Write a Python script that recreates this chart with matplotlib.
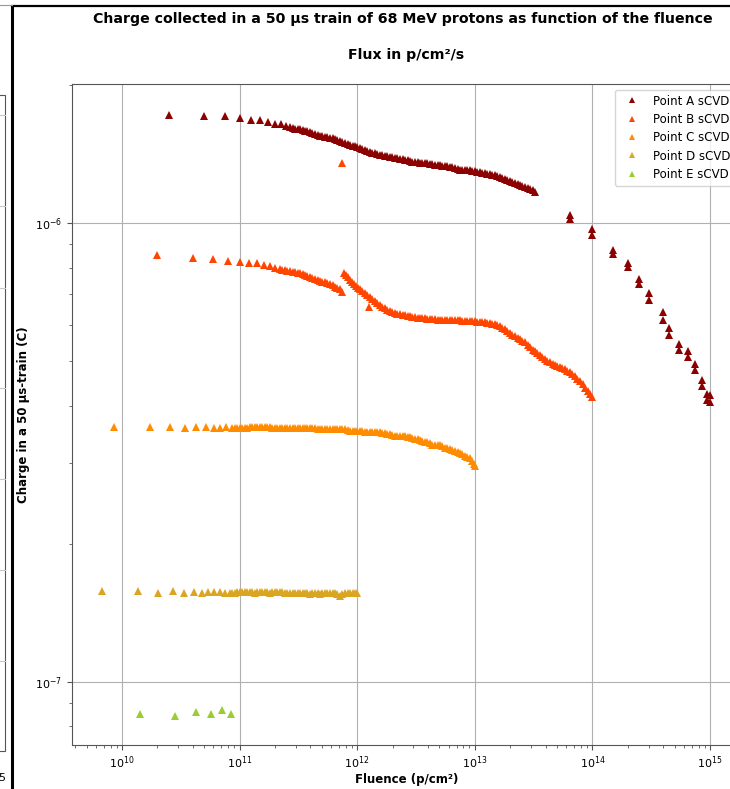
import matplotlib
matplotlib.use("Agg")
import matplotlib.pyplot as plt
from matplotlib.lines import Line2D
from matplotlib.patches import Rectangle

# ---------------- data: (fluence p/cm^2, charge per 50 us train C) ----------------
points_a = [
    (2.5e10, 1.722e-6), (5.0e10, 1.714e-6), (7.5e10, 1.714e-6), (1.0e11, 1.697e-6), (1.25e11, 1.680e-6),
    (1.5e11, 1.680e-6), (1.75e11, 1.663e-6), (2.0e11, 1.646e-6), (2.25e11, 1.646e-6), (2.5e11, 1.629e-6),
    (2.68e11, 1.621e-6), (2.82e11, 1.613e-6), (2.96e11, 1.605e-6), (3.11e11, 1.605e-6), (3.26e11, 1.605e-6),
    (3.43e11, 1.597e-6), (3.60e11, 1.589e-6), (3.78e11, 1.585e-6), (3.97e11, 1.580e-6), (4.17e11, 1.572e-6),
    (4.38e11, 1.564e-6), (4.60e11, 1.556e-6), (4.83e11, 1.549e-6), (5.07e11, 1.545e-6), (5.32e11, 1.541e-6),
    (5.59e11, 1.537e-6), (5.87e11, 1.533e-6), (6.17e11, 1.529e-6), (6.48e11, 1.525e-6), (6.80e11, 1.518e-6),
    (7.14e11, 1.510e-6), (7.50e11, 1.502e-6), (7.88e11, 1.495e-6), (8.28e11, 1.487e-6), (8.69e11, 1.480e-6),
    (9.13e11, 1.476e-6), (9.58e11, 1.473e-6), (1.006e12, 1.465e-6), (1.056e12, 1.458e-6), (1.109e12, 1.451e-6),
    (1.165e12, 1.443e-6), (1.223e12, 1.436e-6), (1.285e12, 1.429e-6), (1.349e12, 1.425e-6), (1.417e12, 1.422e-6),
    (1.488e12, 1.415e-6), (1.563e12, 1.408e-6), (1.641e12, 1.404e-6), (1.724e12, 1.401e-6), (1.810e12, 1.397e-6),
    (1.901e12, 1.393e-6), (1.996e12, 1.390e-6), (2.096e12, 1.386e-6), (2.201e12, 1.383e-6), (2.312e12, 1.380e-6),
    (2.43e12, 1.376e-6), (2.55e12, 1.373e-6), (2.68e12, 1.370e-6), (2.81e12, 1.366e-6), (2.95e12, 1.362e-6),
    (3.10e12, 1.359e-6), (3.26e12, 1.356e-6), (3.42e12, 1.352e-6), (3.59e12, 1.352e-6), (3.77e12, 1.352e-6),
    (3.96e12, 1.349e-6), (4.16e12, 1.345e-6), (4.37e12, 1.342e-6), (4.59e12, 1.339e-6), (4.82e12, 1.339e-6),
    (5.06e12, 1.339e-6), (5.31e12, 1.335e-6), (5.58e12, 1.332e-6), (5.86e12, 1.329e-6), (6.15e12, 1.325e-6),
    (6.46e12, 1.322e-6), (6.79e12, 1.318e-6), (7.13e12, 1.312e-6), (7.48e12, 1.305e-6), (7.86e12, 1.305e-6),
    (8.26e12, 1.305e-6), (8.67e12, 1.305e-6), (9.10e12, 1.305e-6), (9.56e12, 1.302e-6), (1.004e13, 1.299e-6),
    (1.054e13, 1.295e-6), (1.107e13, 1.292e-6), (1.163e13, 1.289e-6), (1.221e13, 1.286e-6), (1.282e13, 1.282e-6),
    (1.347e13, 1.279e-6), (1.414e13, 1.276e-6), (1.485e13, 1.273e-6), (1.560e13, 1.266e-6), (1.638e13, 1.260e-6),
    (1.720e13, 1.254e-6), (1.806e13, 1.248e-6), (1.897e13, 1.241e-6), (1.992e13, 1.235e-6), (2.09e13, 1.229e-6),
    (2.197e13, 1.223e-6), (2.31e13, 1.217e-6), (2.423e13, 1.211e-6), (2.545e13, 1.205e-6), (2.673e13, 1.198e-6),
    (2.81e13, 1.192e-6), (2.948e13, 1.186e-6), (3.10e13, 1.178e-6), (3.25e13, 1.169e-6),
    (6.5e13, 1.041e-6), (6.5e13, 1.020e-6), (1.0e14, 9.70e-7), (1.0e14, 9.41e-7),
    (1.5e14, 8.73e-7), (1.5e14, 8.56e-7), (2.0e14, 8.18e-7), (2.0e14, 8.01e-7),
    (2.5e14, 7.55e-7), (2.5e14, 7.36e-7), (3.0e14, 7.03e-7), (3.0e14, 6.79e-7),
    (4.0e14, 6.39e-7), (4.0e14, 6.14e-7), (4.5e14, 5.90e-7), (4.5e14, 5.69e-7),
    (5.5e14, 5.44e-7), (5.5e14, 5.28e-7), (6.5e14, 5.25e-7), (6.5e14, 5.10e-7),
    (7.5e14, 4.92e-7), (7.5e14, 4.78e-7), (8.5e14, 4.56e-7), (8.5e14, 4.41e-7),
    (9.5e14, 4.25e-7), (9.5e14, 4.11e-7), (1.0e15, 4.21e-7), (1.0e15, 4.07e-7),
]

points_b = [
    (2.0e10, 8.51e-7), (4.0e10, 8.39e-7), (6.0e10, 8.34e-7), (8.0e10, 8.26e-7), (1.0e11, 8.22e-7),
    (1.2e11, 8.18e-7), (1.4e11, 8.18e-7), (1.6e11, 8.10e-7), (1.8e11, 8.06e-7), (2.0e11, 7.97e-7),
    (2.206e11, 7.94e-7), (2.317e11, 7.92e-7), (2.433e11, 7.90e-7), (2.555e11, 7.88e-7), (2.68e11, 7.86e-7),
    (2.82e11, 7.84e-7), (2.96e11, 7.82e-7), (3.11e11, 7.80e-7), (3.26e11, 7.78e-7), (3.43e11, 7.74e-7),
    (3.60e11, 7.70e-7), (3.78e11, 7.66e-7), (3.97e11, 7.62e-7), (4.17e11, 7.59e-7), (4.38e11, 7.55e-7),
    (4.60e11, 7.51e-7), (4.83e11, 7.47e-7), (5.07e11, 7.45e-7), (5.32e11, 7.43e-7), (5.59e11, 7.40e-7),
    (5.87e11, 7.36e-7), (6.17e11, 7.31e-7), (6.48e11, 7.25e-7), (6.80e11, 7.22e-7), (7.14e11, 7.18e-7),
    (7.50e11, 7.07e-7),
    (7.70e11, 7.78e-7), (8.03e11, 7.70e-7), (8.36e11, 7.62e-7), (8.69e11, 7.52e-7), (9.04e11, 7.43e-7),
    (9.39e11, 7.36e-7), (9.77e11, 7.29e-7), (1.016e12, 7.23e-7), (1.056e12, 7.18e-7), (1.109e12, 7.10e-7),
    (1.165e12, 7.03e-7), (1.223e12, 6.96e-7), (1.285e12, 6.89e-7), (1.349e12, 6.82e-7), (1.417e12, 6.76e-7),
    (1.488e12, 6.69e-7), (1.563e12, 6.62e-7), (1.641e12, 6.57e-7), (1.724e12, 6.52e-7), (1.810e12, 6.47e-7),
    (1.901e12, 6.43e-7), (1.996e12, 6.39e-7), (2.096e12, 6.36e-7), (2.201e12, 6.34e-7), (2.312e12, 6.33e-7),
    (2.43e12, 6.31e-7), (2.55e12, 6.30e-7), (2.68e12, 6.28e-7), (2.81e12, 6.26e-7), (2.95e12, 6.25e-7),
    (3.10e12, 6.23e-7), (3.26e12, 6.22e-7), (3.42e12, 6.20e-7), (3.59e12, 6.20e-7), (3.77e12, 6.20e-7),
    (3.96e12, 6.18e-7), (4.16e12, 6.17e-7), (4.37e12, 6.17e-7), (4.59e12, 6.17e-7), (4.82e12, 6.15e-7),
    (5.06e12, 6.14e-7), (5.31e12, 6.14e-7), (5.58e12, 6.14e-7), (5.86e12, 6.14e-7), (6.15e12, 6.14e-7),
    (6.46e12, 6.14e-7), (6.79e12, 6.14e-7), (7.13e12, 6.14e-7), (7.48e12, 6.14e-7), (7.86e12, 6.12e-7),
    (8.26e12, 6.11e-7), (8.67e12, 6.11e-7), (9.10e12, 6.11e-7), (9.56e12, 6.11e-7), (1.004e13, 6.11e-7),
    (1.054e13, 6.10e-7), (1.107e13, 6.08e-7), (1.163e13, 6.08e-7), (1.221e13, 6.08e-7), (1.282e13, 6.06e-7),
    (1.347e13, 6.05e-7), (1.414e13, 6.03e-7), (1.485e13, 6.02e-7), (1.560e13, 5.99e-7), (1.638e13, 5.96e-7),
    (1.720e13, 5.92e-7), (1.806e13, 5.87e-7), (1.897e13, 5.81e-7), (1.992e13, 5.75e-7), (2.09e13, 5.71e-7),
    (2.197e13, 5.67e-7), (2.31e13, 5.62e-7), (2.423e13, 5.58e-7), (2.545e13, 5.54e-7), (2.673e13, 5.50e-7),
    (2.81e13, 5.43e-7), (2.948e13, 5.36e-7), (3.10e13, 5.30e-7), (3.25e13, 5.25e-7), (3.41e13, 5.20e-7),
    (3.58e13, 5.15e-7), (3.76e13, 5.10e-7), (3.95e13, 5.05e-7), (4.15e13, 5.01e-7), (4.36e13, 4.97e-7),
    (4.58e13, 4.93e-7), (4.81e13, 4.90e-7), (5.05e13, 4.87e-7), (5.30e13, 4.85e-7), (5.57e13, 4.82e-7),
    (5.85e13, 4.80e-7), (6.14e13, 4.76e-7), (6.45e13, 4.73e-7), (6.77e13, 4.68e-7), (7.11e13, 4.64e-7),
    (7.47e13, 4.58e-7), (7.85e13, 4.52e-7), (8.24e13, 4.45e-7), (8.65e13, 4.38e-7), (9.09e13, 4.31e-7),
    (9.54e13, 4.25e-7), (1.0e14, 4.17e-7),
    (1.25e12, 6.56e-7), (7.5e11, 1.352e-6),
]

points_c = [
    (8.6e9, 3.60e-7), (1.72e10, 3.60e-7), (2.58e10, 3.59e-7), (3.44e10, 3.57e-7), (4.30e10, 3.59e-7),
    (5.16e10, 3.59e-7), (6.02e10, 3.57e-7), (6.88e10, 3.57e-7), (7.74e10, 3.59e-7), (8.6e10, 3.57e-7),
    (9.14e10, 3.57e-7), (9.60e10, 3.57e-7), (1.008e11, 3.57e-7), (1.059e11, 3.57e-7), (1.112e11, 3.57e-7),
    (1.168e11, 3.58e-7), (1.226e11, 3.59e-7), (1.288e11, 3.59e-7), (1.352e11, 3.59e-7), (1.420e11, 3.59e-7),
    (1.491e11, 3.59e-7), (1.566e11, 3.59e-7), (1.644e11, 3.59e-7), (1.727e11, 3.59e-7), (1.814e11, 3.59e-7),
    (1.905e11, 3.58e-7), (2.000e11, 3.57e-7), (2.100e11, 3.57e-7), (2.206e11, 3.57e-7), (2.317e11, 3.57e-7),
    (2.433e11, 3.57e-7), (2.555e11, 3.57e-7), (2.68e11, 3.57e-7), (2.82e11, 3.57e-7), (2.96e11, 3.57e-7),
    (3.11e11, 3.57e-7), (3.26e11, 3.57e-7), (3.43e11, 3.57e-7), (3.60e11, 3.57e-7), (3.78e11, 3.57e-7),
    (3.97e11, 3.57e-7), (4.17e11, 3.57e-7), (4.38e11, 3.57e-7), (4.60e11, 3.56e-7), (4.83e11, 3.55e-7),
    (5.07e11, 3.55e-7), (5.32e11, 3.55e-7), (5.59e11, 3.55e-7), (5.87e11, 3.55e-7), (6.17e11, 3.55e-7),
    (6.48e11, 3.55e-7), (6.80e11, 3.55e-7), (7.14e11, 3.55e-7), (7.50e11, 3.55e-7), (7.88e11, 3.55e-7),
    (8.28e11, 3.54e-7), (8.69e11, 3.53e-7), (9.13e11, 3.53e-7), (9.58e11, 3.53e-7), (1.006e12, 3.53e-7),
    (1.056e12, 3.53e-7), (1.109e12, 3.53e-7), (1.165e12, 3.51e-7), (1.223e12, 3.51e-7), (1.285e12, 3.51e-7),
    (1.349e12, 3.50e-7), (1.417e12, 3.50e-7), (1.488e12, 3.50e-7), (1.563e12, 3.50e-7), (1.641e12, 3.49e-7),
    (1.724e12, 3.48e-7), (1.810e12, 3.47e-7), (1.901e12, 3.46e-7), (1.996e12, 3.45e-7), (2.096e12, 3.44e-7),
    (2.201e12, 3.44e-7), (2.312e12, 3.44e-7), (2.43e12, 3.43e-7), (2.55e12, 3.43e-7), (2.68e12, 3.42e-7),
    (2.81e12, 3.41e-7), (2.95e12, 3.40e-7), (3.10e12, 3.39e-7), (3.26e12, 3.38e-7), (3.42e12, 3.36e-7),
    (3.59e12, 3.35e-7), (3.77e12, 3.34e-7), (3.96e12, 3.33e-7), (4.16e12, 3.31e-7), (4.37e12, 3.29e-7),
    (4.59e12, 3.28e-7), (4.82e12, 3.28e-7), (5.06e12, 3.28e-7), (5.31e12, 3.26e-7), (5.58e12, 3.24e-7),
    (5.86e12, 3.23e-7), (6.15e12, 3.21e-7), (6.46e12, 3.20e-7), (6.79e12, 3.18e-7), (7.13e12, 3.17e-7),
    (7.48e12, 3.15e-7), (7.86e12, 3.13e-7), (8.26e12, 3.11e-7), (8.67e12, 3.09e-7), (9.10e12, 3.07e-7),
    (9.56e12, 3.03e-7), (9.80e12, 2.99e-7), (1.0e13, 2.95e-7),
]

points_d = [
    (6.8e9, 1.580e-7), (1.36e10, 1.580e-7), (2.04e10, 1.564e-7), (2.72e10, 1.580e-7), (3.40e10, 1.564e-7),
    (4.08e10, 1.572e-7), (4.76e10, 1.564e-7), (5.44e10, 1.572e-7), (6.12e10, 1.572e-7), (6.80e10, 1.572e-7),
    (7.48e10, 1.564e-7),
    (8.29e10, 1.564e-7), (8.70e10, 1.564e-7), (9.14e10, 1.564e-7), (9.60e10, 1.568e-7), (1.008e11, 1.572e-7),
    (1.059e11, 1.572e-7), (1.112e11, 1.572e-7), (1.168e11, 1.572e-7), (1.226e11, 1.572e-7), (1.288e11, 1.568e-7),
    (1.352e11, 1.564e-7), (1.420e11, 1.568e-7), (1.491e11, 1.572e-7), (1.566e11, 1.572e-7), (1.644e11, 1.572e-7),
    (1.727e11, 1.568e-7), (1.814e11, 1.564e-7), (1.905e11, 1.568e-7), (2.000e11, 1.572e-7), (2.100e11, 1.572e-7),
    (2.206e11, 1.572e-7), (2.317e11, 1.568e-7), (2.433e11, 1.564e-7), (2.555e11, 1.564e-7), (2.68e11, 1.564e-7),
    (2.82e11, 1.564e-7), (2.96e11, 1.564e-7), (3.11e11, 1.564e-7), (3.26e11, 1.564e-7), (3.43e11, 1.564e-7),
    (3.60e11, 1.564e-7), (3.78e11, 1.560e-7), (3.97e11, 1.556e-7), (4.17e11, 1.560e-7), (4.38e11, 1.564e-7),
    (4.60e11, 1.560e-7), (4.83e11, 1.556e-7), (5.07e11, 1.560e-7), (5.32e11, 1.564e-7), (5.59e11, 1.564e-7),
    (5.87e11, 1.564e-7), (6.17e11, 1.564e-7), (6.48e11, 1.564e-7), (6.80e11, 1.552e-7), (7.14e11, 1.540e-7),
    (7.50e11, 1.552e-7), (7.88e11, 1.564e-7), (8.28e11, 1.564e-7), (8.69e11, 1.564e-7), (9.13e11, 1.564e-7),
    (9.58e11, 1.564e-7), (1.0e12, 1.564e-7),
]

points_e = [
    (1.42e10, 8.51e-8), (2.84e10, 8.43e-8), (4.26e10, 8.60e-8), (5.68e10, 8.51e-8), (7.10e10, 8.69e-8),
    (8.52e10, 8.51e-8),
]

series_labels = ["Point A sCVD", "Point B sCVD", "Point C sCVD", "Point D sCVD", "Point E sCVD"]
series_colors = ["#8b0000", "#ff4500", "#ff8c00", "#daa520", "#9acd32"]

title_text = "Charge collected in a 50 \u00b5s train of 68 MeV protons as function of the fluence"
subtitle_text = "Flux in p/cm\u00b2/s"
xlabel_text = "Fluence (p/cm\u00b2)"
ylabel_text = "Charge in a 50 \u00b5s-train (C)"

# ---------------- figure ----------------
W, H = 730, 789
fig = plt.figure(figsize=(W / 100, H / 100), dpi=100)


def fx(px):
    return px / W


def fy(py):
    return 1 - py / H


ax = fig.add_axes([fx(72), fy(745), fx(741) - fx(72), fy(84) - fy(745)])
ax.set_xscale("log")
ax.set_yscale("log")

all_series = [points_a, points_b, points_c, points_d, points_e]
for pts, lab, col in zip(all_series, series_labels, series_colors):
    xs = [p[0] for p in pts]
    ys = [p[1] for p in pts]
    ax.plot(xs, ys, linestyle="none", marker="^", markersize=6, color=col,
            markeredgewidth=0, label=lab)

ax.set_xlim(3.76e9, 1.835e15)
ax.set_ylim(7.28e-8, 2.01e-6)
ax.grid(True, which="major", color="#b0b0b0", linewidth=0.8)
ax.set_axisbelow(True)
for sp in ax.spines.values():
    sp.set_color("#555555")
ax.tick_params(which="both", colors="#555555", labelcolor="black", labelsize=8)

ax.set_xlabel(xlabel_text, fontsize=8.5, fontweight="bold", labelpad=1)
ax.set_ylabel(ylabel_text, fontsize=8.5, fontweight="bold", labelpad=4)

leg = ax.legend(loc="upper right", fontsize=8.5, markerscale=0.75, handletextpad=0.8,
                borderaxespad=0.5, labelspacing=0.45)

fig.text(fx(403), fy(19), title_text, ha="center", va="center", fontsize=10.2, fontweight="bold")
fig.text(fx(406), fy(55), subtitle_text, ha="center", va="center", fontsize=10.2, fontweight="bold")

# panel frame lines around the chart
fig.add_artist(Line2D([fx(11.5), fx(11.5)], [fy(6), fy(789)], color="black", linewidth=2.2))
fig.add_artist(Line2D([fx(11.5), fx(730)], [fy(6), fy(6)], color="black", linewidth=1.6))
fig.add_artist(Line2D([fx(0), fx(11.5)], [fy(5), fy(5)], color="#999999", linewidth=0.8))

# neighbouring panel edge on the left
fig.add_artist(Rectangle((fx(-20), fy(751)), fx(25), fy(95) - fy(751), fill=False,
                         edgecolor="#555555", linewidth=0.8))
for gy in [115, 206, 288, 388, 479, 570, 661]:
    fig.add_artist(Line2D([fx(0), fx(5)], [fy(gy), fy(gy)], color="#c8c8c8", linewidth=0.8))
fig.text(fx(-2), fy(778), "5", ha="left", va="center", fontsize=8)

fig.savefig("out.png", dpi=100)
